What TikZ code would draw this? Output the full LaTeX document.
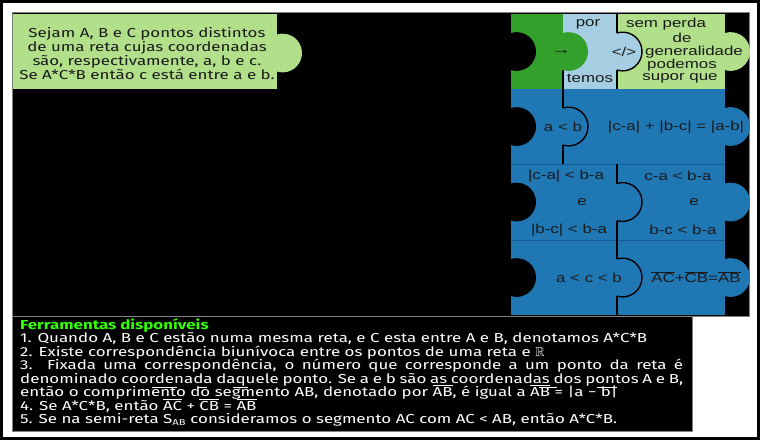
\documentclass[tikz,border=0pt]{standalone}
\usepackage{fontspec}
\usepackage{amssymb}
\setmainfont{Fira Sans}[FakeStretch=1.3]
\newfontfamily\arialf{Liberation Sans}[FakeStretch=1.3]
\newfontfamily\ubu{Fira Sans}[FakeStretch=1.3]
\definecolor{pblue}{HTML}{1F78B4}
\definecolor{plblue}{HTML}{A6CEE3}
\definecolor{plgreen}{HTML}{B2DF8A}
\definecolor{pdgreen}{HTML}{33A02C}
\definecolor{titlegreen}{HTML}{33FF00}
\definecolor{sepblue}{HTML}{175D8F}
\definecolor{txtdark}{HTML}{1A1A1A}
\newcommand\ovl[1]{\ensuremath{\overline{\hbox{#1}}}}
\newcommand\knobfill[3]{\fill[#1] (#2,#3-18.5) arc[start angle=-107,end angle=107,radius=19.35] -- cycle;}
\newcommand\knobedge[2]{\draw[pcline] (#1,#2-18.5) arc[start angle=-107,end angle=107,radius=19.35];}
\begin{document}
\begin{tikzpicture}[x=1pt,y=-1pt,
  pcline/.style={black, line width=1.4pt},
  sepline/.style={sepblue, line width=0.6pt},
  ptxt/.style={font=\arialf\fontsize{13}{13}\selectfont, inner sep=0pt, text=txtdark},
  utxt/.style={font=\ubu\fontsize{13}{13.6}\selectfont, inner sep=0pt, anchor=base west, text=white}]
\useasboundingbox (0,0) rectangle (760,440);
\fill[white] (0,0) rectangle (760,440);
\draw[line width=3pt] (1.5,1.5) rectangle (758.5,438.5);
% panels
\fill[black] (13,13) rectangle (749,316);
\draw[gray, line width=0.6pt] (12.5,12.5) rectangle (749,316);
\fill[black] (13,316) rectangle (692,431);
\draw[gray, line width=0.6pt] (12.5,316) rectangle (692,431);
% green statement box
\fill[plgreen] (13,14) rectangle (277,89);
\knobfill{plgreen}{277}{53}
\node[anchor=north, inner sep=0pt, align=center, text=txtdark,
  font=\ubu\fontsize{13}{12.7}\selectfont] (stmt) at (147,27.5)
  {Sejam A, B e C pontos distintos\\de uma reta cujas coordenadas\\são, respectivamente, a, b e c.\\Se A*C*B então c está entre a e b.};
% row 1
\fill[pdgreen] (511,14) rectangle (563,89);
\fill[plblue] (563,14) rectangle (617,89);
\fill[plgreen] (617,14) rectangle (725,89);
\knobfill{black}{511}{51.5}
\knobfill{pdgreen}{563}{51.5}
\knobfill{plblue}{617}{51.5}
\knobedge{617}{51.5}
\knobfill{plgreen}{725}{51.5}
\draw[pcline] (563,70) -- (563,89);
\draw[pcline] (617,14) -- (617,33);
\draw[pcline] (617,70) -- (617,89);
% blue rows
\fill[pblue] (511,89) rectangle (725,315);
\draw[sepline] (511,164) -- (725,164);
\draw[sepline] (511,240) -- (725,240);
\knobfill{black}{511}{126.5}
\knobfill{pblue}{563}{126.5}
\knobedge{563}{126.5}
\knobfill{pblue}{725}{126.5}
\draw[pcline] (563,89) -- (563,108);
\draw[pcline] (563,145) -- (563,164);
\knobfill{black}{511}{202}
\knobfill{pblue}{617}{202}
\knobedge{617}{202}
\knobfill{pblue}{725}{202}
\knobfill{black}{511}{277.5}
\knobfill{pblue}{617}{277.5}
\knobedge{617}{277.5}
\knobfill{pblue}{725}{277.5}
\draw[pcline] (617,164) -- (617,183.5);
\draw[pcline] (617,220.5) -- (617,259);
\draw[pcline] (617,296) -- (617,315);
% puzzle texts
\node[ptxt, font=\arialf\fontsize{15}{15}\selectfont] (arr) at (561,52) {→};
\node[ptxt] (por) at (588,24) {por};
\node[ptxt] (temos) at (590,78) {temos};
\node[ptxt] (cmp) at (624,52) {</>};
\node[ptxt] (g1) at (666,24) {sem perda};
\node[ptxt] (g2) at (682,38) {de};
\node[ptxt] (g3) at (694,52) {generalidade};
\node[ptxt] (g4) at (682,65) {podemos};
\node[ptxt] (g5) at (680,78) {supor que};
\node[ptxt] (ab) at (563,127) {a < b};
\node[ptxt] (sum) at (676,127) {|c-a| + |b-c| = |a-b|};
\node[ptxt] (l1) at (566,176) {|c-a| < b-a};
\node[ptxt] (l2) at (582,202) {e};
\node[ptxt] (l3) at (569,230) {|b-c| < b-a};
\node[ptxt] (r1) at (678,176) {c-a < b-a};
\node[ptxt] (r2) at (694,202) {e};
\node[ptxt] (r3) at (683,230) {b-c < b-a};
\node[ptxt] (acb) at (589,278) {a < c < b};
\node[ptxt] (seg) at (696,277) {\ovl{AC}+\ovl{CB}=\ovl{AB}};
% tools
\node[utxt, text=titlegreen, font=\ubu\fontsize{13}{13.6}\selectfont\bfseries] (t0) at (20,329) {Ferramentas disponíveis};
\node[utxt] (t1) at (20,342.5) {1. Quando A, B e C estão numa mesma reta, e C esta entre A e B, denotamos A*C*B};
\node[utxt] (t2) at (20,356) {2. Existe correspondência biunívoca entre os pontos de uma reta e $\mathbb{R}$};
\node[utxt] (t3) at (20,369.5) {\makebox[663pt][s]{3. Fixada uma correspondência, o número que corresponde a um ponto da reta é}};
\node[utxt] (t4) at (20,383) {\makebox[663pt][s]{denominado coordenada daquele ponto. Se a e b são as coordenadas dos pontos A e B,}};
\node[utxt] (t5) at (20,396.5) {então o comprimento do segmento AB, denotado por \ovl{AB}, é igual a \ovl{AB} = |a − b|};
\node[utxt] (t6) at (20,410) {4. Se A*C*B, então \ovl{AC} + \ovl{CB} = \ovl{AB}};
\node[utxt] (t7) at (20,423.5) {5. Se na semi-reta S$_{\hbox{\ubu\fontsize{8.5}{9}\selectfont AB}}$ consideramos o segmento AC com AC < AB, então A*C*B.};
% stray rules between lines 4 and 5
\draw[white, line width=0.7pt] (152,387) -- (177,387);
\draw[white, line width=0.7pt] (197,387) -- (207,387);
\draw[white, line width=0.7pt] (233,387) -- (248,387);
\draw[white, line width=0.7pt] (539,387) -- (557,387);
\draw[white, line width=0.7pt] (597,387) -- (617,387);
\end{tikzpicture}
\end{document}
